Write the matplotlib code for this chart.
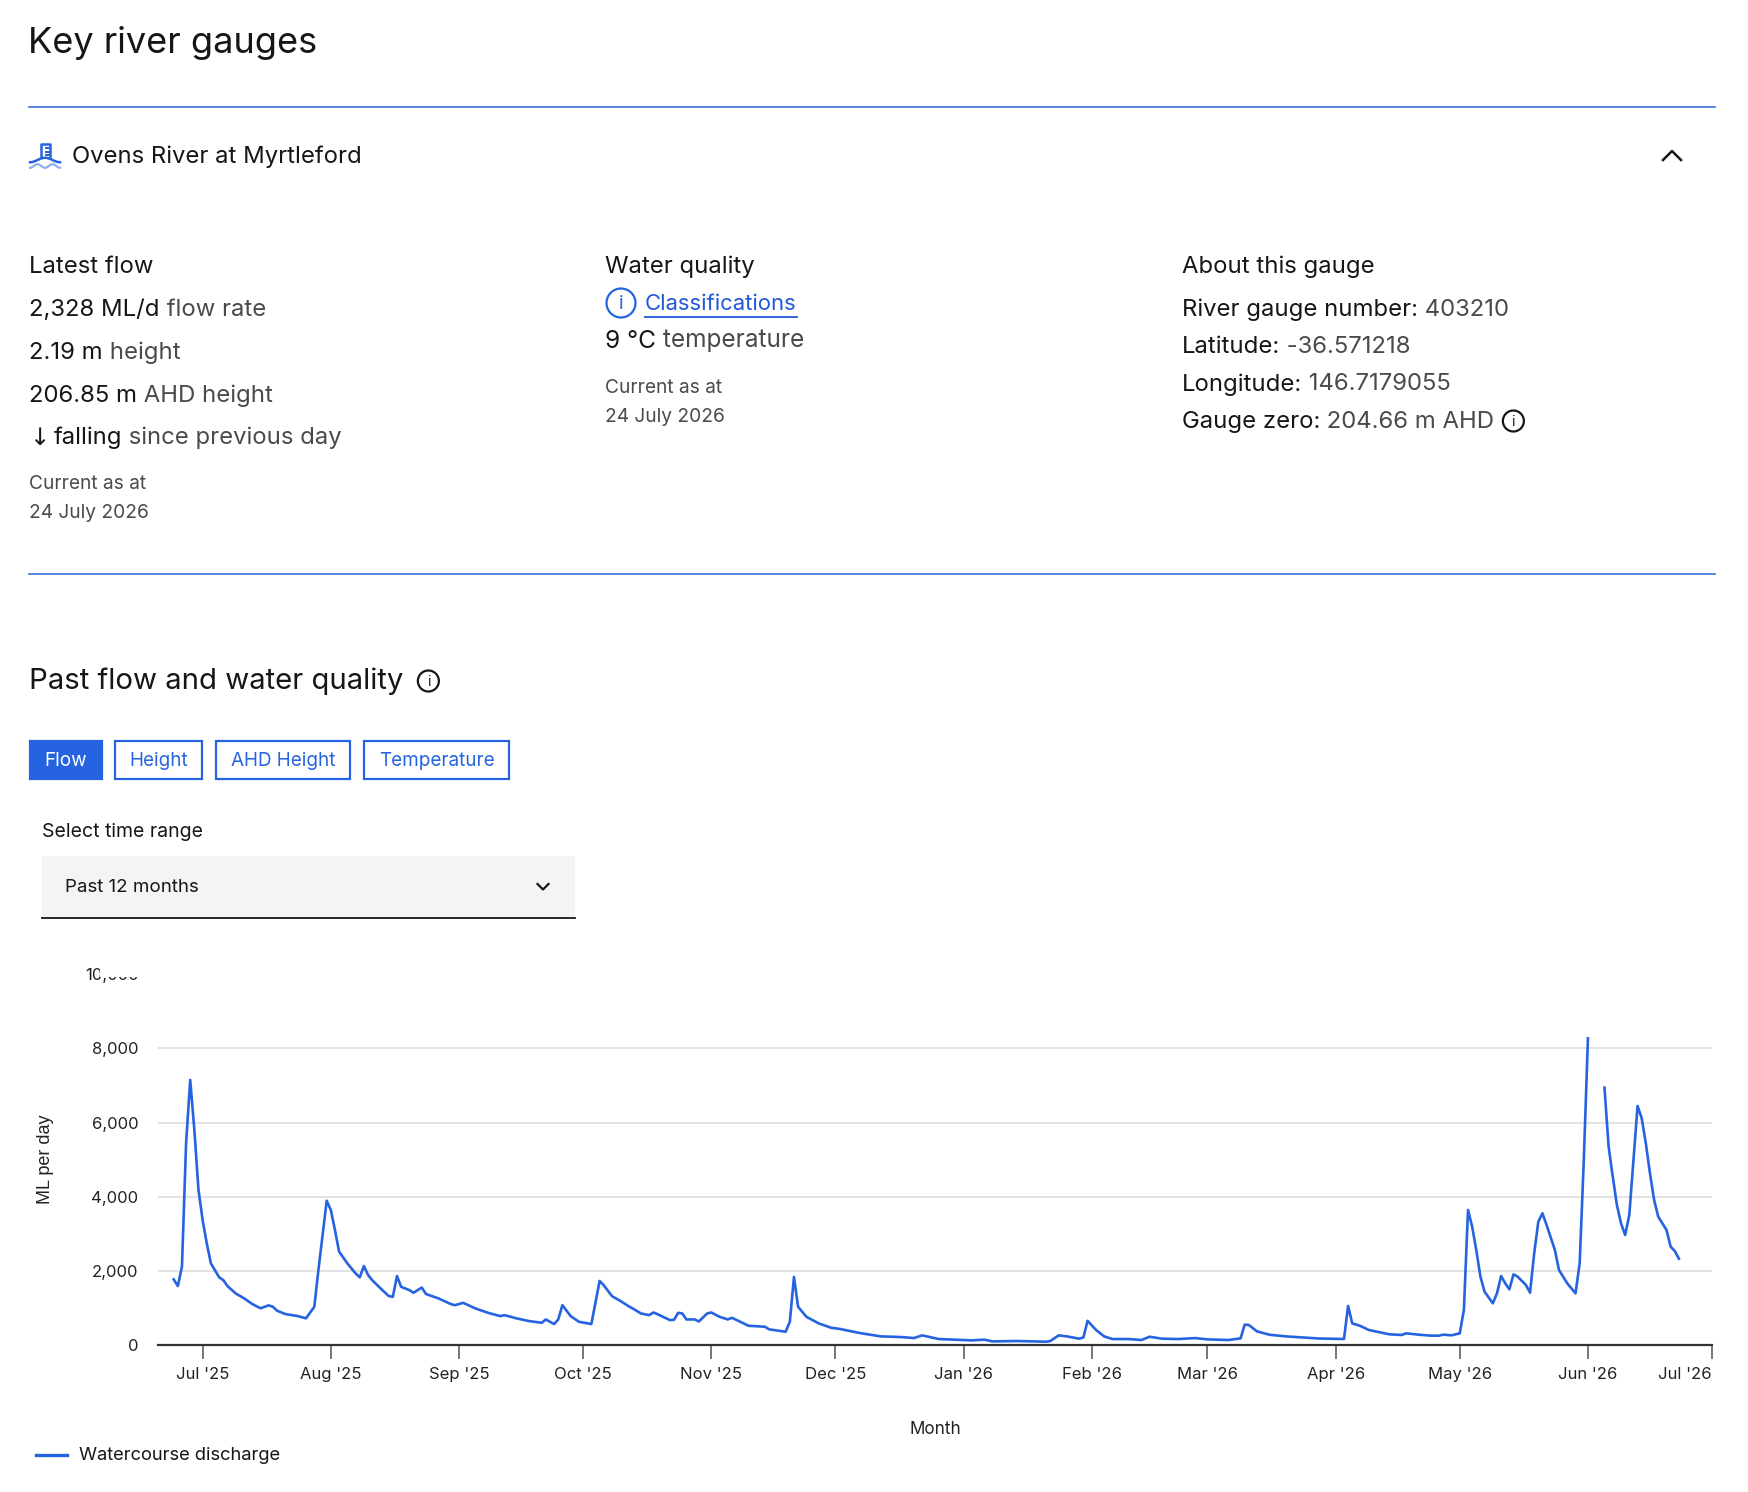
import numpy as np
import pandas as pd
import matplotlib
matplotlib.use('Agg')
import matplotlib.pyplot as plt
import matplotlib.dates as mdates
from matplotlib.patches import Rectangle, Circle
from matplotlib.ticker import FuncFormatter

plt.rcParams['font.family'] = ['Inter', 'DejaVu Sans']

# daily flow (ML/d), vertices only
flow_dates = [
    '2025-06-24', '2025-06-25', '2025-06-26', '2025-06-27', '2025-06-28', '2025-06-29', '2025-06-30',
    '2025-07-01', '2025-07-02', '2025-07-03', '2025-07-05', '2025-07-06', '2025-07-07', '2025-07-09',
    '2025-07-11', '2025-07-13', '2025-07-15', '2025-07-17', '2025-07-18', '2025-07-19', '2025-07-21',
    '2025-07-24', '2025-07-26', '2025-07-28', '2025-07-29', '2025-07-31', '2025-08-01', '2025-08-02',
    '2025-08-03', '2025-08-05', '2025-08-07', '2025-08-08', '2025-08-09', '2025-08-10', '2025-08-11',
    '2025-08-13', '2025-08-15', '2025-08-16', '2025-08-17', '2025-08-18', '2025-08-20', '2025-08-21',
    '2025-08-23', '2025-08-24', '2025-08-27', '2025-08-30', '2025-08-31', '2025-09-02', '2025-09-05',
    '2025-09-08', '2025-09-11', '2025-09-12', '2025-09-15', '2025-09-18', '2025-09-21', '2025-09-22',
    '2025-09-24', '2025-09-25', '2025-09-26', '2025-09-28', '2025-09-30', '2025-10-03', '2025-10-05',
    '2025-10-06', '2025-10-08', '2025-10-10', '2025-10-12', '2025-10-13', '2025-10-15', '2025-10-17',
    '2025-10-18', '2025-10-19', '2025-10-22', '2025-10-23', '2025-10-24', '2025-10-25', '2025-10-26',
    '2025-10-28', '2025-10-29', '2025-10-31', '2025-11-01', '2025-11-03', '2025-11-05', '2025-11-06',
    '2025-11-08', '2025-11-10', '2025-11-14', '2025-11-15', '2025-11-19', '2025-11-20', '2025-11-21',
    '2025-11-22', '2025-11-24', '2025-11-27', '2025-11-30', '2025-12-02', '2025-12-07', '2025-12-12',
    '2025-12-17', '2025-12-20', '2025-12-22', '2025-12-26', '2025-12-30', '2026-01-03', '2026-01-06',
    '2026-01-08', '2026-01-14', '2026-01-21', '2026-01-22', '2026-01-24', '2026-01-26', '2026-01-29',
    '2026-01-30', '2026-01-31', '2026-02-02', '2026-02-04', '2026-02-06', '2026-02-10', '2026-02-13',
    '2026-02-15', '2026-02-18', '2026-02-22', '2026-02-26', '2026-03-01', '2026-03-06', '2026-03-09',
    '2026-03-10', '2026-03-11', '2026-03-13', '2026-03-16', '2026-03-20', '2026-03-24', '2026-03-28',
    '2026-04-03', '2026-04-04', '2026-04-05', '2026-04-07', '2026-04-09', '2026-04-12', '2026-04-14',
    '2026-04-17', '2026-04-18', '2026-04-21', '2026-04-24', '2026-04-26', '2026-04-27', '2026-04-29',
    '2026-05-01', '2026-05-02', '2026-05-03', '2026-05-04', '2026-05-05', '2026-05-06', '2026-05-07',
    '2026-05-09', '2026-05-10', '2026-05-11', '2026-05-12', '2026-05-13', '2026-05-14', '2026-05-15',
    '2026-05-17', '2026-05-18', '2026-05-19', '2026-05-20', '2026-05-21', '2026-05-22', '2026-05-24',
    '2026-05-25', '2026-05-27', '2026-05-29', '2026-05-30', '2026-05-31', '2026-06-01', '2026-06-02',
    '2026-06-05', '2026-06-06', '2026-06-07', '2026-06-08', '2026-06-09', '2026-06-10', '2026-06-11',
    '2026-06-12', '2026-06-13', '2026-06-14', '2026-06-15', '2026-06-16', '2026-06-17', '2026-06-18',
    '2026-06-20', '2026-06-21', '2026-06-22', '2026-06-23',
]
flow_values = [
    1770, 1590, 2110, 5440, 7150, 5800, 4180,
    3370, 2740, 2200, 1825, 1750, 1590, 1390,
    1260, 1105, 990, 1070, 1030, 925, 835,
    780, 720, 1030, 2020, 3890, 3640, 3100,
    2520, 2200, 1930, 1825, 2130, 1890, 1750,
    1530, 1320, 1300, 1860, 1570, 1480, 1410,
    1550, 1375, 1258, 1105, 1074, 1137, 985,
    868, 779, 805, 716, 644, 600, 689,
    564, 689, 1074, 779, 627, 564, 1727,
    1611, 1316, 1190, 1047, 985, 850, 805,
    877, 832, 671, 680, 868, 850, 689,
    689, 635, 850, 877, 761, 689, 734,
    627, 519, 492, 421, 358, 627, 1835,
    1029, 761, 582, 465, 435, 321, 232,
    214, 187, 260, 161, 143, 125, 143,
    98, 107, 89, 107, 259, 232, 170,
    205, 652, 411, 232, 161, 161, 134,
    223, 170, 161, 187, 152, 134, 179,
    550, 540, 366, 277, 232, 205, 175,
    162, 1052, 584, 512, 405, 333, 288,
    270, 315, 279, 252, 252, 279, 261,
    315, 944, 3641, 3190, 2560, 1843, 1438,
    1124, 1393, 1861, 1663, 1501, 1906, 1843,
    1618, 1411, 2472, 3326, 3551, 3236, 2562,
    2023, 1663, 1393, 2203, 4990, 8271, np.nan,
    6940, 5349, 4540, 3776, 3281, 2967, 3506,
    4990, 6446, 6113, 5439, 4630, 3911, 3461,
    3102, 2652, 2535, 2328,
]

y_ticks = [0, 2000, 4000, 6000, 8000, 10000]

latest_flow = [('2,328 ML/d', ' flow rate'), ('2.19 m', ' height'), ('206.85 m', ' AHD height')]
gauge_info = [('River gauge number:', ' 403210'), ('Latitude:', ' -36.571218'),
              ('Longitude:', ' 146.7179055'), ('Gauge zero:', ' 204.66 m AHD')]
buttons = ['Flow', 'Height', 'AHD Height', 'Temperature']

W, H = 1748, 1492
BLUE = '#2563e0'
DARK = '#161616'
GREY = '#4a4a4a'
BODY = 17.2

fig = plt.figure(figsize=(W / 100, H / 100), dpi=100)
fig.patch.set_facecolor('white')

# ---- chart ----
ax = fig.add_axes([158 / W, 1 - 1345 / H, (1712 - 158) / W, (1345 - 974.2) / H])
dates = pd.to_datetime(flow_dates)
ax.plot(dates, flow_values, color=BLUE, lw=1.9, solid_joinstyle='round')
ax.set_xlim(pd.Timestamp('2025-06-20 05:00'), pd.Timestamp('2026-07-01'))
ax.set_ylim(0, 10000)
ax.set_yticks(y_ticks)
ax.yaxis.set_major_formatter(FuncFormatter(lambda v, p: f'{int(v):,}'))
ax.xaxis.set_major_locator(mdates.MonthLocator())
ax.xaxis.set_major_formatter(mdates.DateFormatter("%b '%y"))
ax.grid(axis='y', color='#e3e3e3', lw=1.4)
ax.set_axisbelow(True)
for s in ['top', 'right', 'left']:
    ax.spines[s].set_visible(False)
ax.spines['bottom'].set_color('#333333')
ax.spines['bottom'].set_linewidth(1.6)
ax.tick_params(axis='y', length=0, pad=14, labelsize=12, labelcolor='#222222')
ax.tick_params(axis='x', length=10, width=1.4, color='#777777', pad=6,
               labelsize=12, labelcolor='#222222')
ax.set_xlabel('Month', fontsize=12.3, color='#222222', labelpad=28)
ax.set_ylabel('ML per day', fontsize=13, color='#222222', labelpad=22,
              family=['Liberation Sans', 'DejaVu Sans'])
# last month label sits inside the plot edge, as in the reference
fig.canvas.draw()
ax.get_xticklabels()[-1].set_horizontalalignment('right')

# ---- page elements in pixel space ----
ov = fig.add_axes([0, 0, 1, 1])
ov.set_xlim(0, W)
ov.set_ylim(H, 0)
ov.axis('off')
ov.set_zorder(5)
ov.patch.set_alpha(0)
renderer = fig.canvas.get_renderer()


def txt(x, y, s, size, color=DARK, **kw):
    return ov.text(x, y, s, fontsize=size, color=color, va='center', **kw)


def two_tone(x, y, a, b, size, c1=DARK, c2=GREY):
    t = txt(x, y, a, size, c1)
    w = t.get_window_extent(renderer).width
    t2 = txt(x + w, y, b, size, c2)
    return x + w + t2.get_window_extent(renderer).width


def info_icon(cx, cy, r, color):
    ov.add_patch(Circle((cx, cy), r, fill=False, ec=color, lw=1.6))
    ov.text(cx, cy + 1, 'i', fontsize=r * 0.95, color=color, ha='center', va='center')


# white strip hiding the top of the chart (the reference clips the 10,000 label)
ov.add_patch(Rectangle((100, 924), W - 100, 52.5, fc='white', ec='none', zorder=3))

txt(28, 43, 'Key river gauges', 26)
ov.plot([29, 1715], [107, 107], color='#3a6fd8', lw=1.2)
ov.plot([29, 1715], [574, 574], color='#3a6fd8', lw=1.2)

# gauge icon
ov.plot([41, 41, 50, 50], [157, 144, 144, 157], color=BLUE, lw=1.8)
for yy in [148, 151.5, 155]:
    ov.plot([45.5, 50], [yy, yy], color=BLUE, lw=1.4)
wx = np.linspace(30, 60, 40)
ov.plot(wx, 160 - 2.2 * np.cos((wx - 45) / 30 * 2 * np.pi), color=BLUE, lw=1.8)
ov.plot(wx, 166 - 1.8 * np.cos((wx - 37.5) / 15 * 2 * np.pi), color='#8fb0f0', lw=1.6)
txt(72, 157, 'Ovens River at Myrtleford', 17.2)
ov.plot([1663, 1672, 1681], [160, 151, 160], color=DARK, lw=1.8)

# latest flow column
txt(29, 267, 'Latest flow', BODY)
for i, (a, b) in enumerate(latest_flow):
    two_tone(29, 310 + i * 43, a, b, BODY)
ov.text(29, 438, '↓', fontsize=17.5, color=DARK, va='center', family=['DejaVu Sans'])
two_tone(54, 438, 'falling', ' since previous day', BODY)
txt(29, 484, 'Current as at', 13.8, GREY)
txt(29, 513, '24 July 2026', 13.8, GREY)

# water quality column
txt(605, 267, 'Water quality', BODY)
info_icon(621, 303, 14.5, BLUE)
t = txt(645, 304, 'Classifications', 15.9, '#2157d9')
cw = t.get_window_extent(renderer).width
ov.plot([645, 645 + cw], [317, 317], color='#2157d9', lw=1.3)
two_tone(605, 341, '9 °C', ' temperature', 17.6)
txt(605, 388, 'Current as at', 13.8, GREY)
txt(605, 417, '24 July 2026', 13.8, GREY)

# about column
txt(1182, 267, 'About this gauge', BODY)
for i, (a, b) in enumerate(gauge_info):
    end = two_tone(1182, 310 + i * 37.2, a, b, BODY)
info_icon(end + 19, 421, 10.5, DARK)

# past flow section
t = txt(29, 681, 'Past flow and water quality', 21.1)
info_icon(29 + t.get_window_extent(renderer).width + 25, 681, 10.5, DARK)

bx = [29, 113.7, 215.2, 363.4]
bw = [73.6, 89.2, 136, 146.1]
for name, x0, w in zip(buttons, bx, bw):
    active = name == 'Flow'
    ov.add_patch(Rectangle((x0 + 1, 741.2), w - 2, 38.2, fc=BLUE if active else 'white',
                           ec=BLUE, lw=1.6))
    ov.text(x0 + w / 2, 761, name, fontsize=13.6, color='white' if active else BLUE,
            ha='center', va='center')

txt(42.5, 832, 'Select time range', 14)
ov.add_patch(Rectangle((42.4, 856.2), 532.8, 62.4, fc='#f4f4f4', ec='none', zorder=2))
ov.plot([42.4, 575.2], [918, 918], color='#161616', lw=1.3, zorder=4)
txt(65, 888, 'Past 12 months', 13.5)
ov.plot([537.5, 543, 548.5], [884, 889.5, 884], color=DARK, lw=1.6, zorder=4)

# legend
ov.plot([35.7, 67], [1455, 1455], color=BLUE, lw=2.4)
txt(79, 1456, 'Watercourse discharge', 13.2)

fig.savefig('out.png', dpi=100)
